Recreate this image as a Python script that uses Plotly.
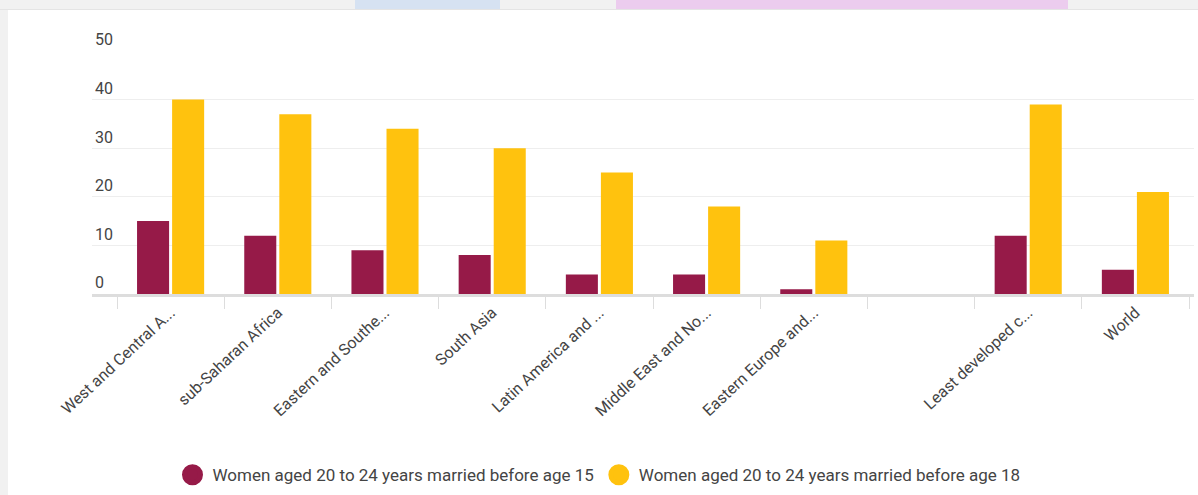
import plotly.graph_objects as go

categories = [
    "West and Central A...",
    "sub-Saharan Africa",
    "Eastern and Southe...",
    "South Asia",
    "Latin America and ...",
    "Middle East and No...",
    "Eastern Europe and...",
    " ",
    "Least developed c...",
    "World",
]
married_before_15 = [15, 12, 9, 8, 4, 4, 1, None, 12, 5]
married_before_18 = [40, 37, 34, 30, 25, 18, 11, None, 39, 21]
series_names = [
    "Women aged 20 to 24 years married before age 15",
    "Women aged 20 to 24 years married before age 18",
]
colors = ["#961A48", "#FFC20E"]
y_ticks = [0, 10, 20, 30, 40, 50]

fig = go.Figure()
for vals, name, col in zip([married_before_15, married_before_18], series_names, colors):
    fig.add_trace(go.Bar(x=categories, y=vals, name=name, marker_color=col,
                         marker_line_width=0, showlegend=False, hoverinfo="skip"))
for name, col in zip(series_names, colors):
    fig.add_trace(go.Scatter(x=[None], y=[None], mode="markers", name=name,
                             marker=dict(symbol="circle", size=16, color=col,
                                         line=dict(color=col, width=5)),
                             showlegend=True, hoverinfo="skip"))

# geometry helpers for background decoration (paper coordinates)
L, R, T, B = 92, 1194, 51, 294
def px(p):
    return (p - L) / (R - L)
def py(q):
    return (B - q) / (B - T)

shapes = [
    dict(type="rect", xref="paper", yref="paper", x0=px(-10), x1=px(1210), y0=py(-10), y1=py(9),
         fillcolor="#f1f1f1", line_width=0, layer="below"),
    dict(type="rect", xref="paper", yref="paper", x0=px(355), x1=px(500), y0=py(9), y1=py(-10),
         fillcolor="#d6e2f2", line_width=0, layer="below"),
    dict(type="rect", xref="paper", yref="paper", x0=px(616), x1=px(1068), y0=py(9), y1=py(-10),
         fillcolor="#ecccee", line_width=0, layer="below"),
    dict(type="line", xref="paper", yref="paper", x0=px(-10), x1=px(1210), y0=py(9.5), y1=py(9.5),
         line=dict(color="#e4e4e4", width=1), layer="below"),
    dict(type="rect", xref="paper", yref="paper", x0=px(-10), x1=px(8), y0=py(10), y1=py(510),
         fillcolor="#f1f1f1", line_width=0, layer="below"),
]

fig.update_layout(
    width=1198, height=495,
    margin=dict(l=L, r=1198 - R, t=T, b=495 - B),
    paper_bgcolor="white", plot_bgcolor="white",
    font=dict(family="Roboto", color="#444444", size=14),
    barmode="group", bargap=0.346, bargroupgap=0.086,
    shapes=shapes,
    showlegend=True,
    legend=dict(orientation="h", xref="container", yref="container", x=0.5, xanchor="center",
                y=0.04, yanchor="middle", font=dict(size=17, color="#444444"),
                itemsizing="trace", bgcolor="rgba(0,0,0,0)"),
    xaxis=dict(type="category", range=[-0.5 - 25 / 107.2, 9.5 + 5 / 107.2],
               tickangle=-43, tickfont=dict(size=16, color="#444444"),
               ticks="outside", tickson="boundaries", ticklen=12, tickcolor="#dddddd", tickwidth=1,
               showline=True, linecolor="#dddddd", linewidth=3, showgrid=False, fixedrange=True),
    yaxis=dict(range=[0, 50], tickvals=y_ticks, ticktext=[str(v) for v in y_ticks],
               ticklabelposition="inside top", ticklabeloverflow="allow",
               tickfont=dict(size=16, color="#444444"),
               showgrid=True, gridcolor="#eeeeee", gridwidth=1, zeroline=False,
               showline=False, ticks="", fixedrange=True),
)

fig.write_html("out.html")
